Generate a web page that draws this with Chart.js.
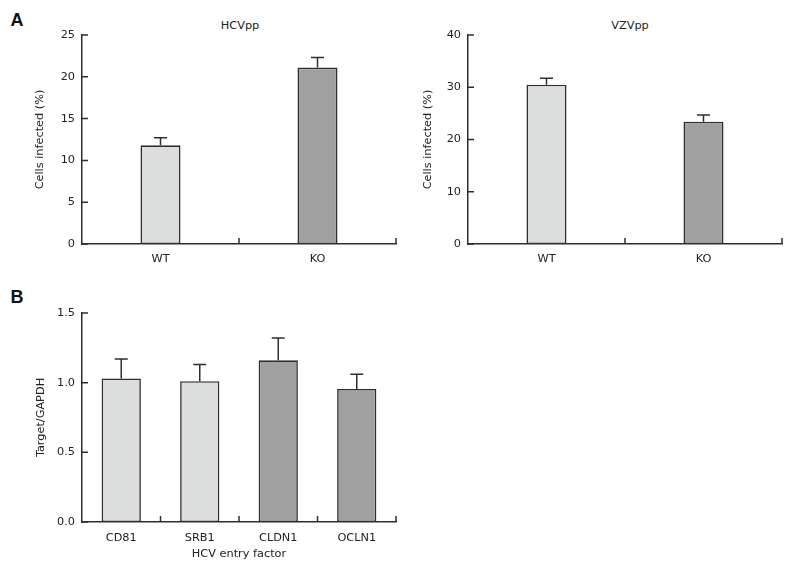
<!DOCTYPE html>
<html>
<head>
<meta charset="utf-8">
<script src="https://cdn.jsdelivr.net/npm/chart.js@4"></script>
<style>
  body { margin: 0; width: 800px; height: 573px; background: #fff; position: relative; overflow: hidden; font-family: "DejaVu Sans", sans-serif; }
  canvas { position: absolute; }
  .lbl { position: absolute; color: #222; font-size: 11.3px; transform: translate(-50%, -50%); white-space: nowrap; }
  .panel { position: absolute; font-family: "Liberation Sans", Arial, sans-serif; font-weight: bold; font-size: 18px; color: #111; transform: translate(-50%, -50%); }
</style>
</head>
<body>
<div class="panel" style="left:17px; top:20px;">A</div>
<div class="panel" style="left:17px; top:297px;">B</div>
<div class="lbl" style="left:240px; top:25px;">HCVpp</div>
<div class="lbl" style="left:630px; top:25px;">VZVpp</div>
<canvas id="hcv" width="400" height="270" style="left:0; top:0;"></canvas>
<canvas id="vzv" width="400" height="270" style="left:400px; top:0;"></canvas>
<canvas id="entry" width="400" height="303" style="left:0; top:270px;"></canvas>
<script>
const groups = ['WT', 'KO'];
const hcvValues = [11.8, 21.1];
const hcvErrors = [0.9, 1.2];
const vzvValues = [30.5, 23.4];
const vzvErrors = [1.2, 1.3];

const factors = ['CD81', 'SRB1', 'CLDN1', 'OCLN1'];
const factorValues = [1.03, 1.01, 1.16, 0.955];
const factorErrors = [0.14, 0.12, 0.16, 0.105];

const LIGHT = '#dcdedd';
const DARK = '#a0a0a0';
const INK = '#2e2e2e';
const FONT = { family: 'DejaVu Sans', size: 11.3 };

// error bars, upper side only
const errorBars = {
  id: 'errorBars',
  afterDatasetsDraw(chart) {
    const ctx = chart.ctx;
    const yScale = chart.scales.y;
    chart.data.datasets.forEach((ds, di) => {
      const meta = chart.getDatasetMeta(di);
      meta.data.forEach((bar, i) => {
        const top = yScale.getPixelForValue(ds.data[i] + ds.errors[i]);
        ctx.save();
        ctx.strokeStyle = INK;
        ctx.lineWidth = 1.5;
        ctx.beginPath();
        ctx.moveTo(bar.x, bar.y);
        ctx.lineTo(bar.x, top);
        ctx.moveTo(bar.x - 6.5, top);
        ctx.lineTo(bar.x + 6.5, top);
        ctx.stroke();
        ctx.restore();
      });
    });
  }
};

// tick marks pointing into the plot
const inwardTicks = {
  id: 'inwardTicks',
  afterDraw(chart) {
    const ctx = chart.ctx;
    const { left, right, bottom } = chart.chartArea;
    const x = chart.scales.x, y = chart.scales.y;
    ctx.save();
    ctx.strokeStyle = INK;
    ctx.lineWidth = 1.5;
    ctx.beginPath();
    y.ticks.forEach(t => {
      const py = y.getPixelForValue(t.value);
      ctx.moveTo(left, py);
      ctx.lineTo(left + 6, py);
    });
    const n = chart.data.labels.length;
    for (let i = 0; i < n; i++) {
      const px = i < n - 1 ? (x.getPixelForValue(i) + x.getPixelForValue(i + 1)) / 2 : right;
      ctx.moveTo(px, bottom);
      ctx.lineTo(px, bottom - 6);
    }
    ctx.stroke();
    ctx.restore();
  }
};

function makeChart(id, labels, values, errors, colors, opts) {
  return new Chart(document.getElementById(id), {
    type: 'bar',
    data: {
      labels: labels,
      datasets: [{
        data: values,
        errors: errors,
        backgroundColor: colors,
        borderColor: INK,
        borderWidth: 1.6,
        borderSkipped: false,
        categoryPercentage: 1,
        barPercentage: opts.barPct
      }]
    },
    options: {
      responsive: false,
      animation: false,
      layout: { padding: opts.padding },
      plugins: { legend: { display: false }, tooltip: { enabled: false } },
      scales: {
        x: {
          grid: { display: false, drawTicks: false },
          border: { color: INK, width: 1.5 },
          ticks: { color: '#222', font: FONT, padding: opts.xPad },
          title: opts.xTitle ? { display: true, text: opts.xTitle, color: '#222', font: FONT, padding: { top: 0, bottom: 12 } } : { display: false },
          afterFit: s => { s.height = opts.xHeight; }
        },
        y: {
          min: 0,
          max: opts.max,
          grid: { display: false, drawTicks: false },
          border: { color: INK, width: 1.5 },
          ticks: {
            stepSize: opts.step,
            color: '#222',
            font: FONT,
            padding: 7,
            callback: v => opts.decimals ? v.toFixed(opts.decimals) : v
          },
          title: { display: true, text: opts.yTitle, color: '#222', font: FONT, padding: { top: 4, bottom: 4 } },
          afterFit: s => { s.width = opts.yWidth; }
        }
      }
    },
    plugins: [errorBars, inwardTicks]
  });
}

makeChart('hcv', groups, hcvValues, hcvErrors, [LIGHT, DARK], {
  barPct: 0.255, padding: { left: 29, right: 4, top: 35, bottom: 0 },
  yWidth: 53, xHeight: 26, xPad: 8, max: 25, step: 5, yTitle: 'Cells infected (%)'
});

makeChart('vzv', groups, vzvValues, vzvErrors, [LIGHT, DARK], {
  barPct: 0.255, padding: { left: 17, right: 18, top: 35, bottom: 0 },
  yWidth: 51, xHeight: 26, xPad: 8, max: 40, step: 10, yTitle: 'Cells infected (%)'
});

makeChart('entry', factors, factorValues, factorErrors, [LIGHT, LIGHT, DARK, DARK], {
  barPct: 0.5, padding: { left: 30, right: 4, top: 43, bottom: 0 },
  yWidth: 52, xHeight: 51, xPad: 9, max: 1.5, step: 0.5, decimals: 1,
  yTitle: 'Target/GAPDH', xTitle: 'HCV entry factor'
});
</script>
</body>
</html>
